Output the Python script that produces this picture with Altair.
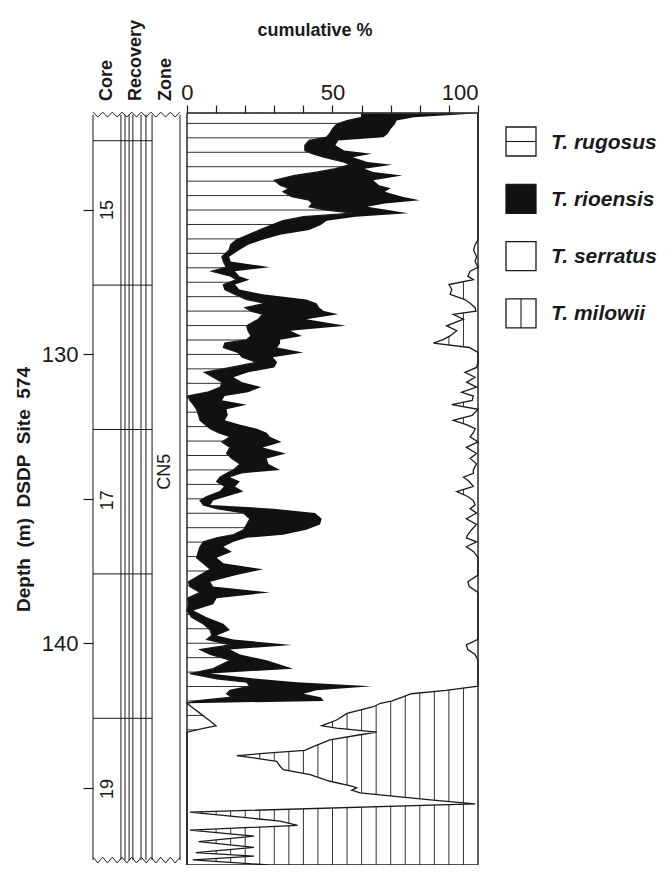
import altair as alt
import numpy as np
import pandas as pd

# ---------------- data ----------------
# sample depth (m, DSDP Site 574)
depth = [121.66, 121.79, 121.90, 122.02, 122.19, 122.36, 122.48, 122.59, 122.76, 122.94,
         123.05, 123.17, 123.34, 123.43, 123.57, 123.68, 123.80, 123.97, 124.14, 124.25,
         124.37, 124.54, 124.66, 124.77, 124.89, 125.00, 125.11, 125.23, 125.37, 125.52,
         125.69, 125.86, 126.03, 126.20, 126.38, 126.62, 126.78, 126.98, 127.12, 127.29,
         127.41, 127.58, 127.75, 127.92, 128.10, 128.23, 128.38, 128.50, 128.61, 128.78,
         129.01, 129.18, 129.36, 129.49, 129.61, 129.76, 129.93, 130.10, 130.27, 130.45,
         130.62, 130.79, 130.96, 131.13, 131.31, 131.44, 131.59, 131.74, 131.90, 132.11,
         132.28, 132.43, 132.57, 132.71, 132.85, 133.03, 133.22, 133.43, 133.60, 133.79,
         134.00, 134.12, 134.25, 134.40, 134.57, 134.75, 134.92, 135.06, 135.21, 135.34,
         135.49, 135.69, 135.89, 136.07, 136.24, 136.35, 136.49, 136.66, 136.83, 137.04,
         137.23, 137.44, 137.64, 137.87, 138.04, 138.24, 138.44, 138.65, 138.87, 139.10,
         139.33, 139.54, 139.73, 139.87, 140.06, 140.22, 140.39, 140.59, 140.88, 141.05,
         141.23, 141.35, 141.49, 141.63, 141.75, 141.87, 142.00, 142.08, 142.20, 142.43,
         142.66, 142.86, 142.94, 143.08, 143.17, 143.35, 143.58, 143.71, 143.80, 143.89,
         143.98, 144.09, 144.26, 144.38, 144.55, 144.78, 144.95, 145.01, 145.09, 145.18,
         145.32, 145.43, 145.53, 145.56, 145.85, 146.16, 146.31, 146.47, 146.68, 146.87,
         147.07, 147.25, 147.37, 147.50, 147.68]

# cumulative % : T. rugosus
cum_rugosus = [60, 60, 55, 51.5, 50, 49, 48, 42, 40.5, 40.5,
               43, 47, 54, 56, 51, 45, 37, 30, 32, 35,
               33, 36, 42, 43, 42, 48, 57, 40, 33, 29,
               25, 21, 17, 15, 14.5, 12, 12.5, 13.5, 8.5, 15,
               17, 12.5, 13, 16.5, 20.5, 27, 20, 22, 26, 24.5,
               20.5, 21, 22, 20.5, 13, 12.5, 17.5, 19, 24, 15,
               6, 9, 12, 11.5, 7, 0.3, 1, 2.2, 3.3, 4,
               4.5, 6.2, 8, 10.8, 14.8, 12, 14.8, 13.6, 15.4, 18.2,
               16, 13.6, 11.3, 10.2, 13, 11.3, 6.8, 4.5, 5.6, 10.2,
               19.4, 21.6, 20.5, 19.4, 16, 10.2, 5.6, 4.5, 3.9, 3.3,
               5.6, 8, 4.5, 0.5, 1, 4.5, 0.2, 0.5, 0, 1.6,
               5.6, 8, 8.5, 6.8, 14.8, 4.5, 8, 14.8, 9, 1,
               10.2, 20.5, 21.6, 14.8, 13.6, 15.4, 3, 0, 1.5, 4.5,
               7.5, 10, 6, 0, 0, 0, 0, 0, 0, 0,
               0, 0, 0, 0, 0, 0, 0, 0, 0, 0,
               0, 0, 0, 0, 0, 0, 0, 0, 0, 0,
               0, 0, 0, 0, 0]

# cumulative % : T. rugosus + T. rioensis
cum_rioensis = [99, 78, 72, 71.5, 70, 69, 67.5, 52, 51, 54,
                63.5, 57, 62, 70.5, 61, 64, 74, 64, 66, 70,
                68, 74, 80, 68, 62, 69, 76, 58, 48, 46,
                42, 32, 26, 21, 18, 14.5, 15, 28.5, 16.5, 18,
                21.5, 16.5, 18, 26, 41, 44.5, 45.5, 47, 52, 41,
                54.5, 35.5, 39.5, 32, 32, 31, 40, 29.5, 31, 30,
                21, 16, 19, 25.5, 21, 13, 12, 20.5, 13.6, 14,
                13, 18, 24, 27.4, 28.5, 32.5, 26, 34, 27.4, 28,
                32, 18.8, 14.8, 18.2, 16.5, 19.4, 13.6, 9, 8, 29.7,
                44, 46.3, 45.7, 41, 33, 20.5, 16, 12.5, 15.4, 10.2,
                12.5, 26.2, 17, 8, 9, 28.5, 10.2, 9, 2.2, 6.8,
                12.5, 14.8, 10.2, 16, 36, 14.8, 18.2, 27.4, 36.5, 8,
                24, 37.7, 63.5, 44.6, 40, 46, 47, 0, 1.5, 4.5,
                7.5, 10, 6, 0, 0, 0, 0, 0, 0, 0,
                0, 0, 0, 0, 0, 0, 0, 0, 0, 0,
                0, 0, 0, 0, 0, 0, 0, 0, 0, 0,
                0, 0, 0, 0, 0]

# cumulative % : T. rugosus + T. rioensis + T. serratus (rest = T. milowii)
cum_serratus = [100, 100, 100, 100, 100, 100, 100, 100, 100, 100,
                100, 100, 100, 100, 100, 100, 100, 100, 100, 100,
                100, 100, 100, 100, 100, 100, 100, 100, 100, 100,
                100, 100, 100, 99, 98.5, 99.5, 99, 100, 97.3, 96.5,
                98.4, 90, 91, 90.4, 95.5, 97.3, 99, 99.3, 91.5, 95,
                89.2, 92.7, 90.4, 88, 84.7, 97, 100, 100, 100, 99.5,
                95.5, 99, 96.1, 99.5, 94.4, 98.4, 98, 91, 100, 98,
                91.5, 96, 99, 98.4, 97.3, 100, 96, 99.5, 97.3, 99.5,
                98.4, 98.4, 95, 97, 98.4, 92.7, 96.5, 98.4, 99, 97.3,
                99.5, 96, 99.5, 97.8, 96.5, 96, 99.5, 96, 98.5, 100,
                100, 100, 100, 96.5, 97, 100, 100, 100, 100, 100,
                100, 100, 100, 100, 96, 96.5, 99, 100, 100, 100,
                100, 100, 100, 89, 77, 74, 70.5, 66.5, 64, 55,
                51.4, 46.3, 51.4, 65.2, 59.5, 49.1, 43.4, 40.5, 28.5, 17.1,
                23.4, 30.8, 32, 33.1, 42.3, 49.1, 56.6, 58.3, 56.6, 59.5,
                73.2, 84.6, 95, 99, 1, 32, 38, 1, 23, 4,
                23, 3, 23, 2, 28]

core_boundaries = [122.6, 127.6, 132.6, 137.6, 142.6]
core_numbers = ["15", "17", "19"]
core_number_depths = [125.0, 135.05, 145.05]
zone_name = "CN5"
zone_depth = 134.06
depth_ticks = [125, 130, 135, 140, 145]
pct_ticks = list(range(0, 101, 10))
legend_names = ["T. rugosus", "T. rioensis", "T. serratus", "T. milowii"]
column_names = ["Core", "Recovery", "Zone"]

# ---------------- layout ----------------
FONT = "Liberation Sans"
INK = "#1a1a1a"
X_MIN, X_MAX = -32.3, 100.0
D_TOP, D_BOT = 121.64, 147.68
W, H = 385, 752

COL_CORE = (-32.3, -22.7)
REC_LINES = [-22.7, -21.3, -19.9, -18.6, -15.8, -14.1, -12.0]
ZONE_RIGHT = -2.4
COL_TOP, COL_BOT = 121.70, 147.51

xs = alt.Scale(domain=[X_MIN, X_MAX], nice=False, zero=False)
ys = alt.Scale(domain=[D_TOP, D_BOT], reverse=True, nice=False, zero=False)

xaxis = alt.Axis(orient="top", values=pct_ticks,
                 labelExpr="datum.value % 50 === 0 ? datum.label : ''",
                 tickSize=8, tickColor=INK, tickWidth=1.2, labelFontSize=22,
                 labelFont=FONT, labelColor=INK, labelPadding=1, labelOverlap=False,
                 domain=False, grid=False, title=None)
yaxis = alt.Axis(orient="left", values=depth_ticks,
                 labelExpr="datum.value % 10 === 0 ? datum.label : ''",
                 tickSize=10, tickColor=INK, tickWidth=1.2, labelFontSize=22,
                 labelFont=FONT, labelColor=INK, labelPadding=5, labelOverlap=False,
                 domain=False, grid=False,
                 title="Depth\u00a0\u00a0(m)\u00a0\u00a0DSDP\u00a0\u00a0Site\u00a0\u00a0574",
                 titleFont=FONT, titleFontSize=19, titleFontWeight="bold",
                 titleColor=INK, titlePadding=8)


def X(f):
    return alt.X(f, type="quantitative", scale=xs, axis=xaxis)


def Y(f):
    return alt.Y(f, type="quantitative", scale=ys, axis=yaxis)


df = pd.DataFrame({"depth": depth, "r1": cum_rugosus, "r2": cum_rioensis,
                   "r3": cum_serratus})
df["left"] = 0.0

layers = []

# T. milowii vertical hatching (covered elsewhere by the white area)
vh = pd.DataFrame({"x": np.arange(5, 100, 5, dtype=float)})
vh["d0"], vh["d1"] = D_TOP, D_BOT
layers.append(alt.Chart(vh).mark_rule(color=INK, strokeWidth=0.9).encode(
    x=X("x"), y=Y("d0"), y2="d1"))

# white area of rugosus + rioensis + serratus
layers.append(alt.Chart(df).mark_area(orient="horizontal", color="white", opacity=1).encode(
    y=Y("depth"), x=X("left"), x2="r3"))

# T. rugosus horizontal hatching every 0.5 m
hd = np.arange(122.0, 147.6, 0.5)
hx = np.interp(hd, depth, cum_rugosus)
hh = pd.DataFrame({"d": hd, "x0": 0.0, "x1": hx})
hh = hh[hh["x1"] > 0.3]
layers.append(alt.Chart(hh).mark_rule(color=INK, strokeWidth=0.9).encode(
    y=Y("d"), x=X("x0"), x2="x1"))

# T. rioensis black band
layers.append(alt.Chart(df).mark_area(orient="horizontal", color="#111111", opacity=1).encode(
    y=Y("depth"), x=X("r1"), x2="r2"))

# boundary curves
for f in ["r1", "r3"]:
    layers.append(alt.Chart(df).mark_line(color=INK, strokeWidth=1.3).encode(
        x=X(f), y=Y("depth"), order=alt.Order("depth", sort="ascending")))

# frame of the percentage panel
frame_v = pd.DataFrame({"x": [0.0, 100.0], "d0": D_TOP, "d1": D_BOT})
layers.append(alt.Chart(frame_v).mark_rule(color=INK, strokeWidth=1.4).encode(
    x=X("x"), y=Y("d0"), y2="d1"))
frame_h = pd.DataFrame({"d": [D_TOP, D_BOT], "x0": 0.0, "x1": 100.0})
layers.append(alt.Chart(frame_h).mark_rule(color=INK, strokeWidth=1.4).encode(
    y=Y("d"), x=X("x0"), x2="x1"))

# core / recovery / zone columns
col_x = [COL_CORE[0]] + REC_LINES + [ZONE_RIGHT]
cv = pd.DataFrame({"x": col_x, "d0": COL_TOP, "d1": COL_BOT})
layers.append(alt.Chart(cv).mark_rule(color=INK, strokeWidth=1.0).encode(
    x=X("x"), y=Y("d0"), y2="d1"))
cb = pd.DataFrame({"d": core_boundaries, "x0": COL_CORE[0], "x1": REC_LINES[-1]})
layers.append(alt.Chart(cb).mark_rule(color=INK, strokeWidth=1.0).encode(
    y=Y("d"), x=X("x0"), x2="x1"))

# torn-core zigzags at the top and bottom of the columns
zx = np.linspace(COL_CORE[0], ZONE_RIGHT, 19)
for lo, hi in [(121.61, 121.78), (147.41, 147.61)]:
    zz = pd.DataFrame({"x": zx, "d": [lo if i % 2 == 0 else hi for i in range(len(zx))],
                       "k": np.arange(len(zx))})
    layers.append(alt.Chart(zz).mark_line(color=INK, strokeWidth=1.0).encode(
        x=X("x"), y=Y("d"), order=alt.Order("k")))

# core numbers and zone name
cn = pd.DataFrame({"x": -27.3, "d": core_number_depths, "t": core_numbers})
layers.append(alt.Chart(cn).mark_text(angle=270, font=FONT, fontSize=18, color=INK,
                                      align="center", baseline="middle").encode(
    x=X("x"), y=Y("d"), text="t"))
zn = pd.DataFrame({"x": [-7.4], "d": [zone_depth], "t": [zone_name]})
layers.append(alt.Chart(zn).mark_text(angle=270, font=FONT, fontSize=18, color=INK,
                                      align="center", baseline="middle").encode(
    x=X("x"), y=Y("d"), text="t"))

# column headers
hdr = pd.DataFrame({"x": [-27.5, -17.4, -7.2], "t": column_names})
layers.append(alt.Chart(hdr).mark_text(angle=270, font=FONT, fontSize=18, fontWeight="bold",
                                       color=INK, align="left", baseline="middle").encode(
    x=X("x"), y=alt.value(-12), text="t"))

# panel title
ttl = pd.DataFrame({"x": [44.0], "t": ["cumulative %"]})
layers.append(alt.Chart(ttl).mark_text(font=FONT, fontSize=18, fontWeight="bold", color=INK,
                                       align="center", baseline="middle").encode(
    x=X("x"), y=alt.value(-82), text="t"))

# legend (drawn by hand because of the hatched symbols)
BX0, BX1, BY0, BSZ, BSTEP, TX = 413, 443, 14, 29, 57.3, 458
for i, name in enumerate(legend_names):
    top = BY0 + BSTEP * i
    one = pd.DataFrame({"t": [name]})
    fill = "#111111" if name == "T. rioensis" else "white"
    layers.append(alt.Chart(one).mark_rect(fill=fill, stroke=INK, strokeWidth=1.3).encode(
        x=alt.value(BX0), x2=alt.value(BX1), y=alt.value(top), y2=alt.value(top + BSZ)))
    if name == "T. rugosus":
        layers.append(alt.Chart(one).mark_rule(color=INK, strokeWidth=1.1).encode(
            x=alt.value(BX0), x2=alt.value(BX1), y=alt.value(top + BSZ / 2)))
    if name == "T. milowii":
        layers.append(alt.Chart(one).mark_rule(color=INK, strokeWidth=1.1).encode(
            x=alt.value((BX0 + BX1) / 2), y=alt.value(top), y2=alt.value(top + BSZ)))
    layers.append(alt.Chart(one).mark_text(font=FONT, fontSize=21, fontWeight="bold",
                                           fontStyle="italic", color=INK, align="left",
                                           baseline="middle").encode(
        x=alt.value(TX), y=alt.value(top + BSZ / 2 + 1), text="t"))

chart = alt.layer(*layers).properties(
    width=W, height=H,
    autosize=alt.AutoSizeParams(type="none"),
    padding={"left": 85, "top": 105, "right": 184, "bottom": 0},
).configure_view(stroke=None)

chart.save("out.html", embed_options={"renderer": "svg", "actions": False})
